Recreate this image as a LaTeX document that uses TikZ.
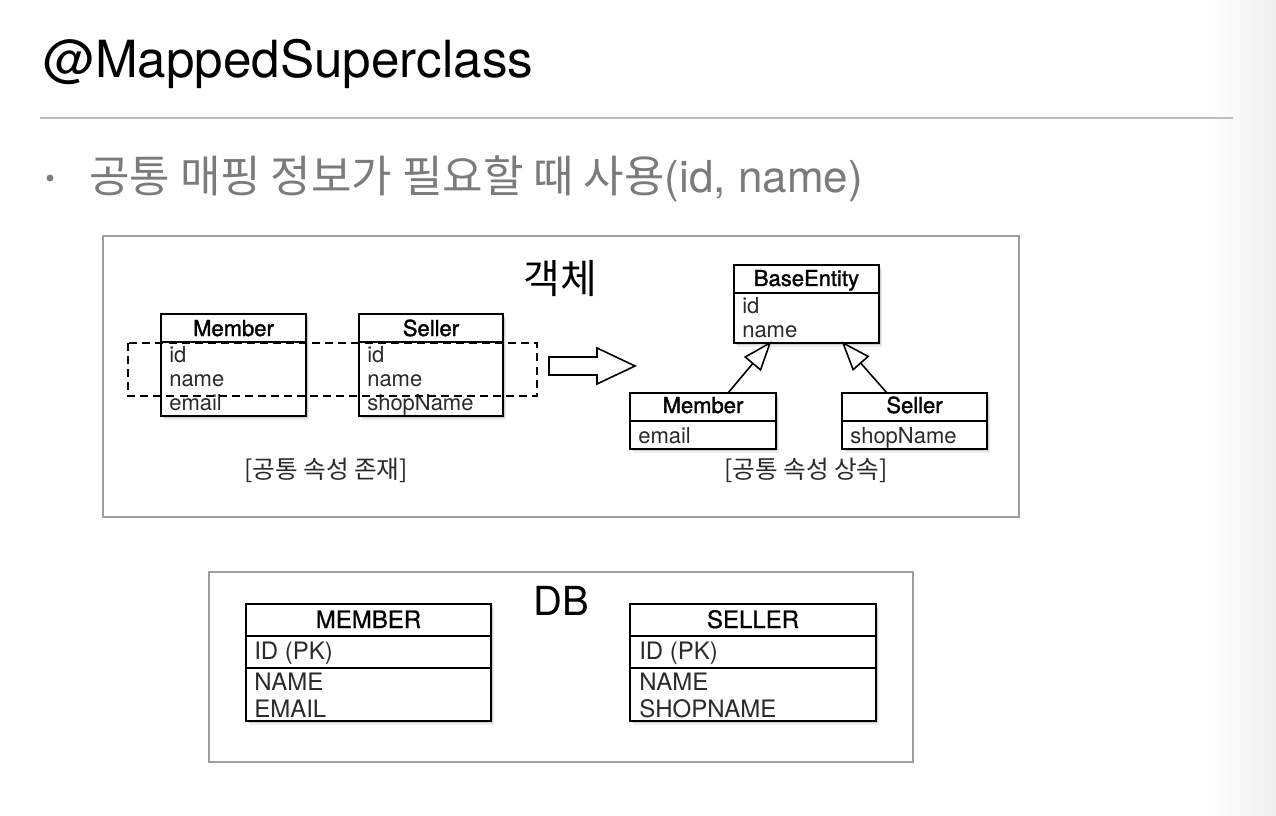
\documentclass[tikz,border=0pt]{standalone}
\usepackage{fontspec}
\setmainfont{TeX Gyre Heros}
\newfontfamily\kr{Noto Sans CJK KR}
\newfontfamily\hdrfont[FakeBold=1.6]{TeX Gyre Heros}
\newfontfamily\dbhfont[FakeBold=0.8]{TeX Gyre Heros}
\usetikzlibrary{arrows.meta,calc}
\definecolor{txtgray}{HTML}{7B7B7B}
\definecolor{framegray}{HTML}{9E9E9E}
\definecolor{rulegray}{HTML}{BDBDBD}
\definecolor{attr}{HTML}{2A2A2A}
\newcommand\myfs[1]{\fontsize{#1pt}{#1pt}\selectfont}
\begin{document}
\begin{tikzpicture}[x=0.75pt,y=-0.75pt,
  shadowed/.style={
    preaction={fill=black,fill opacity=0.07,draw=none,transform canvas={shift={(2.6pt,-3.2pt)}}},
    preaction={fill=black,fill opacity=0.12,draw=none,transform canvas={shift={(1.4pt,-1.8pt)}}}},
  frame/.style={draw=framegray,line width=1pt,inner sep=0pt,outer sep=0pt},
  cls/.style={draw=black,line width=1.2pt,fill=white,inner sep=0pt,outer sep=0pt,shadowed},
  divline/.style={line width=1.2pt},
  hdr/.style={anchor=base,inner sep=0pt,font=\hdrfont\myfs{16.5}},
  att/.style={anchor=base west,inner sep=0pt,text=attr,font=\myfs{16.5}},
  dbhdr/.style={anchor=base,inner sep=0pt,font=\dbhfont\myfs{18}},
  dbatt/.style={anchor=base west,inner sep=0pt,text=attr,font=\myfs{18}},
  lbl/.style={anchor=center,inner sep=0pt,text=attr,font=\kr\myfs{18.5}},
  inhline/.style={line width=1.2pt},
  inhhead/.style={line width=1.2pt,fill=white,line join=miter},
  grouprect/.style={dash pattern=on 6pt off 3.8pt,line width=1pt}]

\useasboundingbox (0,0) rectangle (1276,816);
\fill[white] (0,0) rectangle (1276,816);
\shade[left color=white,right color=black!6] (1205,0) rectangle (1276,816);

% title
\node[anchor=base west,inner sep=0pt,font=\myfs{38.4}] (title) at (43,78) {@MappedSuperclass};
\draw[rulegray,line width=1.5pt] (40,118) -- (1233,118);

% bullet
\fill[txtgray] (50,178) circle[radius=2.6pt];
\node[anchor=base west,inner sep=0pt,text=txtgray,font=\myfs{33}] (bullet) at (89,193)
  {{\kr 공통 매핑 정보가 필요할 때 사용}(id, name)};

% object frame
\node[frame,minimum width={916*0.75pt},minimum height={281*0.75pt}] (objframe) at (561,376.5) {};
\node[anchor=base,inner sep=0pt,font=\kr\myfs{30}] (objtitle) at (560,294) {객체};

% left Member
\node[cls,minimum width={145*0.75pt},minimum height={102*0.75pt}] (lmem) at (233.5,365) {};
\draw[divline] (161,342) -- (306,342);
\node[hdr] (lmemh) at (233.5,336) {Member};
\node[att] (lmem1) at (169,362) {id};
\node[att] (lmem2) at (169,386) {name};
\node[att] (lmem3) at (169,410) {email};

% left Seller
\node[cls,minimum width={144*0.75pt},minimum height={102*0.75pt}] (lsel) at (431,365) {};
\draw[divline] (359,342) -- (503,342);
\node[hdr] (lselh) at (431,336) {Seller};
\node[att] (lsel1) at (367,362) {id};
\node[att] (lsel2) at (367,386) {name};
\node[att] (lsel3) at (367,410) {shopName};

% dashed group
\draw[grouprect] (128,343) rectangle (537,396);

% hollow arrow
\draw[line width=1.2pt,fill=white,line join=miter] (549,357) -- (597,357) -- (597,348) -- (635,366)
  -- (597,384) -- (597,375) -- (549,375) -- cycle;

% BaseEntity
\node[cls,minimum width={145*0.75pt},minimum height={78*0.75pt}] (base) at (806.5,304) {};
\draw[divline] (734,293) -- (879,293);
\node[hdr] (baseh) at (806.5,286) {BaseEntity};
\node[att] (base1) at (742,313) {id};
\node[att] (base2) at (742,337) {name};

% right Member
\node[cls,minimum width={146*0.75pt},minimum height={56*0.75pt}] (rmem) at (703,421) {};
\draw[divline] (630,421) -- (776,421);
\node[hdr] (rmemh) at (703,413) {Member};
\node[att] (rmem1) at (638,443) {email};

% right Seller
\node[cls,minimum width={145*0.75pt},minimum height={56*0.75pt}] (rsel) at (914.5,421) {};
\draw[divline] (842,421) -- (987,421);
\node[hdr] (rselh) at (914.5,413) {Seller};
\node[att] (rsel1) at (850,443) {shopName};

% inheritance
\coordinate (t1) at ($(base.south)+(-36.5,0)$);
\coordinate (s1) at ($(rmem.north)+(25,0)$);
\coordinate (m1) at ($(t1)!20pt!(s1)$);
\draw[inhline] (s1) -- (m1);
\draw[inhhead] (t1) -- ($(m1)!7.5pt!90:(t1)$) -- ($(m1)!7.5pt!-90:(t1)$) -- cycle;
\coordinate (t2) at ($(base.south)+(36.5,0)$);
\coordinate (s2) at ($(rsel.north)+(-27.5,0)$);
\coordinate (m2) at ($(t2)!20pt!(s2)$);
\draw[inhline] (s2) -- (m2);
\draw[inhhead] (t2) -- ($(m2)!7.5pt!90:(t2)$) -- ($(m2)!7.5pt!-90:(t2)$) -- cycle;

% labels
\node[lbl] (lbl1) at (326,470) {[공통 속성 존재]};
\node[lbl] (lbl2) at (806,470) {[공통 속성 상속]};

% DB frame
\node[frame,minimum width={704*0.75pt},minimum height={190*0.75pt}] (dbframe) at (561,667) {};
\node[anchor=base,inner sep=0pt,font=\myfs{30}] (dbtitle) at (561,615) {DB};

% MEMBER table
\node[cls,minimum width={245*0.75pt},minimum height={117*0.75pt}] (mtab) at (368.5,662.5) {};
\draw[divline] (246,636) -- (491,636);
\draw[divline] (246,668) -- (491,668);
\node[dbhdr] (mtabh) at (368.5,628) {MEMBER};
\node[dbatt] (mtab1) at (254,659) {ID (PK)};
\node[dbatt] (mtab2) at (254,690) {NAME};
\node[dbatt] (mtab3) at (254,717) {EMAIL};

% SELLER table
\node[cls,minimum width={246*0.75pt},minimum height={117*0.75pt}] (stab) at (753,662.5) {};
\draw[divline] (630,636) -- (876,636);
\draw[divline] (630,668) -- (876,668);
\node[dbhdr] (stabh) at (753,628) {SELLER};
\node[dbatt] (stab1) at (639,659) {ID (PK)};
\node[dbatt] (stab2) at (639,690) {NAME};
\node[dbatt] (stab3) at (639,717) {SHOPNAME};
\end{tikzpicture}
\end{document}
